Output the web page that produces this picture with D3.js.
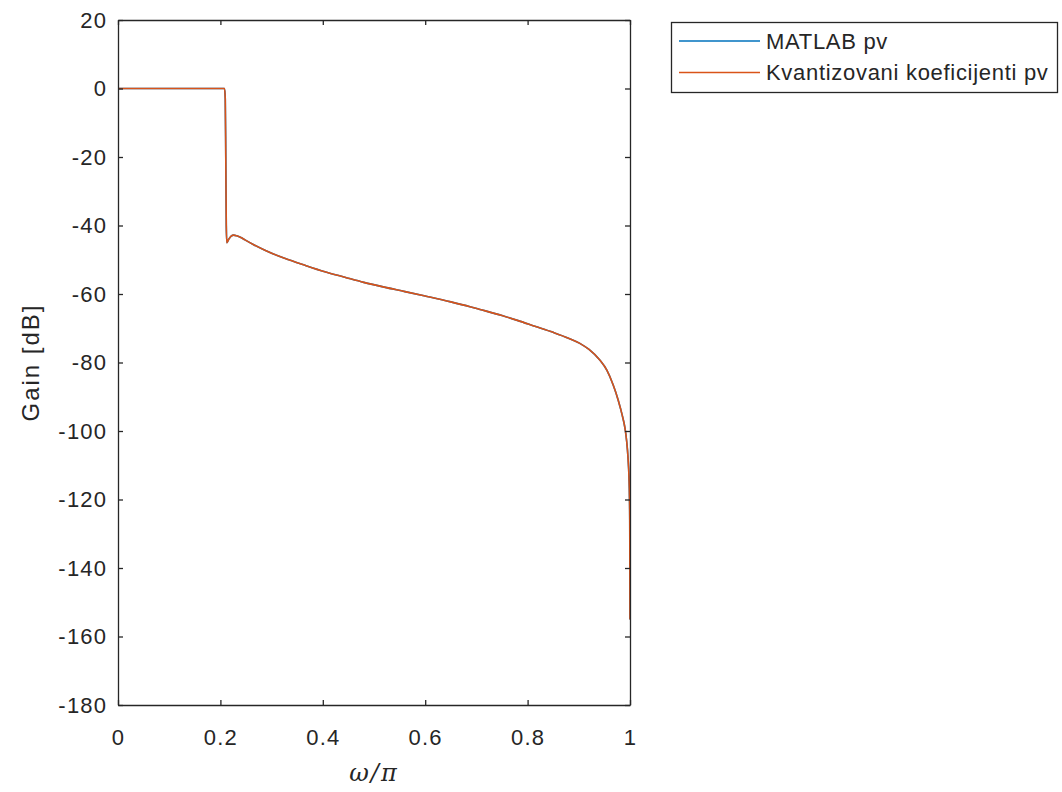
<!DOCTYPE html>
<html>
<head>
<meta charset="utf-8">
<script src="https://cdn.jsdelivr.net/npm/d3@7"></script>
<style>
  html, body { margin: 0; padding: 0; background: #fff; }
  svg { display: block; }
  text { font-family: "Liberation Sans", Arial, Helvetica, sans-serif; fill: #262626; }
</style>
</head>
<body>
<svg id="chart" width="1062" height="792"></svg>
<script>
// Normalised frequency (ω/π) and magnitude response in dB
const freq = [0, 0.05, 0.1, 0.15, 0.2, 0.208, 0.2095, 0.2105, 0.2115, 0.2125, 0.216, 0.221, 0.226,
  0.232, 0.24, 0.248, 0.265, 0.287, 0.32, 0.359, 0.404, 0.443, 0.48, 0.52, 0.5605, 0.6, 0.65,
  0.6875, 0.707, 0.75, 0.78, 0.814, 0.85, 0.88, 0.902, 0.92, 0.941, 0.955, 0.967, 0.977, 0.985,
  0.99, 0.9935, 0.996, 0.998, 0.999, 0.9995, 1.0];
const gainMatlab = [0, 0, 0, 0, 0, 0, -3, -20, -40, -45, -44.1, -43.1, -42.8,
  -43.0, -43.5, -44.2, -45.6, -47.2, -49.3, -51.3, -53.5, -55.1, -56.6, -58.0, -59.3, -60.6, -62.3,
  -63.7, -64.5, -66.3, -67.7, -69.4, -71.2, -72.9, -74.4, -76.2, -79.3, -82.3, -86.5, -91, -95.5,
  -99, -103, -107.5, -113.5, -119.5, -126, -155];
const gainQuant = gainMatlab.slice();

const seriesNames = ["MATLAB pv", "Kvantizovani koeficijenti pv"];
const seriesColors = ["#0072BD", "#D95319"];
const xTicks = [0, 0.2, 0.4, 0.6, 0.8, 1];
const yTicks = [20, 0, -20, -40, -60, -80, -100, -120, -140, -160, -180];

const svg = d3.select("#chart");
const axisColor = "#262626";
const plotLeft = 118, plotRight = 630, plotTop = 20, plotBottom = 705;

const x = d3.scaleLinear().domain([0, 1]).range([plotLeft, plotRight]);
const y = d3.scaleLinear().domain([-180, 20]).range([plotBottom, plotTop]);

// Data curves
const line = d3.line()
  .curve(d3.curveMonotoneX)
  .x(d => x(d[0]))
  .y(d => y(d[1]));

const series = [gainMatlab, gainQuant];
series.forEach((g, i) => {
  svg.append("path")
    .datum(freq.map((f, k) => [f, g[k]]))
    .attr("fill", "none")
    .attr("stroke", seriesColors[i])
    .attr("stroke-width", 1.6)
    .attr("stroke-linejoin", "round")
    .attr("d", line);
});

// Axes (box with inward ticks on all sides)
const tickLen = 5;
const fs = 22;
const hyphenFmt = d => String(d); // plain hyphen-minus for negative values

const gBottom = svg.append("g").attr("transform", `translate(0,${plotBottom})`)
  .call(d3.axisBottom(x).tickValues(xTicks).tickSizeInner(-tickLen).tickSizeOuter(0)
    .tickPadding(24).tickFormat(hyphenFmt));
const gTop = svg.append("g").attr("transform", `translate(0,${plotTop})`)
  .call(d3.axisTop(x).tickValues(xTicks).tickSizeInner(-tickLen).tickSizeOuter(0).tickFormat(""));
const gLeft = svg.append("g").attr("transform", `translate(${plotLeft},0)`)
  .call(d3.axisLeft(y).tickValues(yTicks).tickSizeInner(-tickLen).tickSizeOuter(0)
    .tickPadding(12).tickFormat(hyphenFmt));
const gRight = svg.append("g").attr("transform", `translate(${plotRight},0)`)
  .call(d3.axisRight(y).tickValues(yTicks).tickSizeInner(-tickLen).tickSizeOuter(0).tickFormat(""));

[gBottom, gTop, gLeft, gRight].forEach(g => {
  g.select(".domain").attr("stroke", axisColor).attr("stroke-width", 1.3);
  g.selectAll(".tick line").attr("stroke", axisColor).attr("stroke-width", 1.3);
  g.selectAll(".tick text")
    .attr("fill", axisColor)
    .style("font-family", '"Liberation Sans", Arial, sans-serif')
    .style("font-size", fs + "px")
    .style("letter-spacing", "1.2px");
});
gLeft.selectAll(".tick text").attr("dx", "1.2px");

// Axis labels
svg.append("text")
  .attr("transform", `translate(39,${(plotTop + plotBottom) / 2}) rotate(-90)`)
  .attr("text-anchor", "middle")
  .style("font-size", "24px")
  .style("letter-spacing", "2px")
  .text("Gain [dB]");

svg.append("text")
  .attr("x", (plotLeft + plotRight) / 2)
  .attr("y", 781)
  .attr("text-anchor", "middle")
  .style("font-family", '"DejaVu Serif", "Liberation Serif", serif')
  .style("font-style", "italic")
  .style("font-size", "24px")
  .style("letter-spacing", "2px")
  .text("ω/π");

// Legend
const lg = svg.append("g");
lg.append("rect")
  .attr("x", 671.5).attr("y", 22.5)
  .attr("width", 386).attr("height", 70)
  .attr("fill", "#fff")
  .attr("stroke", axisColor).attr("stroke-width", 1.3);
seriesNames.forEach((name, i) => {
  const yy = 41 + i * 31.5;
  lg.append("line")
    .attr("x1", 679).attr("x2", 760)
    .attr("y1", yy).attr("y2", yy)
    .attr("stroke", seriesColors[i]).attr("stroke-width", 1.6);
  lg.append("text")
    .attr("x", 766).attr("y", yy)
    .attr("dy", "0.35em")
    .style("font-size", fs + "px")
    .style("letter-spacing", "0.7px")
    .text(name);
});
</script>
</body>
</html>
